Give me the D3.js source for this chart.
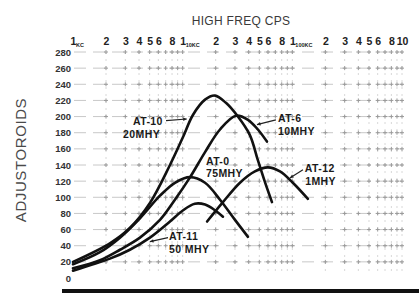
<!DOCTYPE html>
<meta charset="utf-8">
<script src="https://d3js.org/d3.v7.min.js"></script>
<style>
  body { margin: 0; background: #fff; }
  text { font-family: "Liberation Sans", Arial, sans-serif; }
</style>
<body>
<div id="canvas"></div>
<script>
    // frequency in KC (log axis) and adjustoroids
    var at10Freq = [1, 2.17, 3.3, 5.03, 7.66, 10.1, 12.4, 16, 19.7, 24.8, 31.9, 41, 48.5, 56.2, 65.2];
    var at10Vals = [20, 43, 62, 93, 140, 175, 202, 221, 226, 217, 200, 177, 146, 119, 94];

    var at0Freq = [1, 1.76, 2.68, 4.08, 6.21, 8.5, 11.7, 16, 21.9, 30, 39.4];
    var at0Vals = [17, 32, 50, 74, 102, 118, 125, 118, 97, 72, 51];

    var at6Freq = [1, 1.76, 2.68, 4.08, 6.21, 8.5, 11.7, 16, 21.9, 30.6, 39.4, 48.5, 58.7];
    var at6Vals = [12, 22, 35, 50, 72, 97, 125, 156, 184, 201, 196, 184, 169];

    var at11Freq = [1, 2.17, 3.3, 5.03, 7.66, 10.1, 12.9, 16, 19.7, 23.3];
    var at11Vals = [9, 24, 35, 50, 70, 84, 92, 91, 84, 76];

    var at12Freq = [16.7, 23.3, 33.3, 45.6, 59.9, 77.1, 101, 138.7];
    var at12Vals = [70, 94, 118, 132, 137, 132, 118, 98];

    var seriesFreq = [at10Freq, at0Freq, at6Freq, at11Freq, at12Freq];
    var seriesVals = [at10Vals, at0Vals, at6Vals, at11Vals, at12Vals];

    // curve labels (two lines each), placed in data units
    var labelTop = ["AT-10", "AT-0", "AT-6", "AT-11", "AT-12"];
    var labelBottom = ["20MHY", "75MHY", "10MHY", "50 MHY", "1MHY"];
    var labelFreq = [3.52, 16.3, 73.9, 7.5, 130];
    var labelVal = [189, 140, 193, 47, 131];
    var label2Freq = [2.86, 16.3, 73.9, 7.5, 131];
    var label2Val = [174, 125, 177, 31, 115];
    var arrowFrom = [[7.05, 195], null, [70.8, 196], [7.35, 50], [125, 134]];
    var arrowTo = [[10.9, 197], null, [47.6, 190], [5.03, 45], [95, 124]];

    // axis ticks
    var yTicks = [0, 20, 40, 60, 80, 100, 120, 140, 160, 180, 200, 220, 240, 260, 280];
    var xLabelTicks = [1, 2, 3, 4, 5, 6, 8, 10, 20, 30, 40, 50, 60, 80, 100, 200, 300, 400, 500, 600, 800, 1000];
    var xUnits = ["KC", "10KC", "100KC"];
    var xUnitFreq = [1, 10, 100];

    var width = 419, height = 293;

    var svg = d3.select('#canvas')
        .append("svg")
        .attr("width", width)
        .attr("height", height)
        .style("background", "#fff");

    var x = d3.scaleLog().domain([1, 1000]).range([73, 402]);
    var y = d3.scaleLinear().domain([0, 280]).range([278, 52]);

    // minor positions 1..9 per decade
    var minor = [];
    [1, 10, 100].forEach(function(d) {
        for (var i = 1; i < 10; i++) minor.push(d * i);
    });
    minor.push(1000);

    // grid ------------------------------------------------------------
    var grid = svg.append("g");
    grid.selectAll(".vg")
        .data(minor.filter(function(d) { return d > 1; }))
        .enter().append("line")
        .attr("x1", function(d) { return x(d); })
        .attr("x2", function(d) { return x(d); })
        .attr("y1", y(280))
        .attr("y2", y(0) - 2)
        .attr("stroke", "#d8d8d8")
        .attr("stroke-width", 1)
        .attr("stroke-dasharray", "2,5");

    grid.selectAll(".hg")
        .data(yTicks.filter(function(d) { return d > 0; }))
        .enter().append("line")
        .attr("x1", x(1) + 1)
        .attr("x2", x(1000))
        .attr("y1", function(d) { return y(d); })
        .attr("y2", function(d) { return y(d); })
        .attr("stroke", "#c8c8c8")
        .attr("stroke-width", 1)
        .attr("stroke-dasharray", "12,7");

    var cross = [];
    yTicks.filter(function(d) { return d > 0; }).forEach(function(v) {
        minor.filter(function(d) { return d > 1; }).forEach(function(f) { cross.push([f, v]); });
    });
    grid.selectAll(".plus")
        .data(cross)
        .enter().append("path")
        .attr("d", function(d) {
            var cx = x(d[0]), cy = y(d[1]);
            return "M" + (cx - 2) + "," + cy + "H" + (cx + 2) + "M" + cx + "," + (cy - 2) + "V" + (cy + 2);
        })
        .attr("stroke", "#999")
        .attr("stroke-width", 1);

    // axes ------------------------------------------------------------
    var xAxis = d3.axisTop(x)
        .tickValues(xLabelTicks)
        .tickSize(0)
        .tickPadding(0)
        .tickFormat(function(d) { return d == 1000 ? "10" : String(d).charAt(0); });
    var gx = svg.append("g")
        .attr("transform", "translate(0,45)")
        .call(xAxis);
    gx.select(".domain").remove();
    gx.selectAll("text")
        .style("font-size", "10.5px")
        .style("font-weight", "bold")
        .attr("fill", "#222");

    svg.selectAll(".unit")
        .data(xUnits)
        .enter().append("text")
        .attr("x", function(d, i) { return x(xUnitFreq[i]) + 3; })
        .attr("y", 47)
        .style("font-size", "5.5px")
        .style("font-weight", "bold")
        .attr("fill", "#222")
        .text(function(d) { return d; });

    var yAxis = d3.axisLeft(y)
        .tickValues(yTicks)
        .tickSize(0)
        .tickPadding(2);
    var gy = svg.append("g")
        .attr("transform", "translate(73,0)")
        .call(yAxis);
    gy.select(".domain").remove();
    gy.selectAll("text")
        .style("font-size", "9.5px")
        .style("font-weight", "bold")
        .attr("fill", "#333");

    svg.append("text")
        .attr("x", 241)
        .attr("y", 25)
        .attr("text-anchor", "middle")
        .style("font-size", "12px")
        .style("letter-spacing", "0.3px")
        .attr("fill", "#3a3a3a")
        .text("HIGH FREQ CPS");

    svg.append("text")
        .attr("transform", "translate(26,160) rotate(-90)")
        .attr("text-anchor", "middle")
        .style("font-size", "15px")
        .style("letter-spacing", "0.6px")
        .attr("fill", "#4a4a4a")
        .text("ADJUSTOROIDS");

    // black band at the bottom of the scan
    svg.append("rect")
        .attr("x", 62)
        .attr("y", 289)
        .attr("width", width - 62)
        .attr("height", 4)
        .attr("fill", "#111");

    // curves ----------------------------------------------------------
    var line = d3.line()
        .x(function(d) { return x(d[0]); })
        .y(function(d) { return y(d[1]); })
        .curve(d3.curveCatmullRom.alpha(0.5));

    for (let s = 0; s < seriesFreq.length; s++) {
        var pts = seriesFreq[s].map(function(f, i) { return [f, seriesVals[s][i]]; });
        svg.append("path")
            .attr("d", line(pts))
            .attr("fill", "none")
            .attr("stroke", "#111")
            .attr("stroke-width", 2.6)
            .attr("stroke-linecap", "round");
    }

    // labels ----------------------------------------------------------
    for (let s = 0; s < labelTop.length; s++) {
        svg.append("text")
            .attr("x", x(labelFreq[s]))
            .attr("y", y(labelVal[s]))
            .style("font-size", "10.5px")
            .style("font-weight", "bold")
            .style("letter-spacing", "0.4px")
            .attr("fill", "#1a1a1a")
            .text(labelTop[s]);
        svg.append("text")
            .attr("x", x(label2Freq[s]))
            .attr("y", y(label2Val[s]))
            .style("font-size", "10.5px")
            .style("font-weight", "bold")
            .style("letter-spacing", "0.4px")
            .attr("fill", "#1a1a1a")
            .text(labelBottom[s]);
        if (arrowFrom[s]) {
            var a = [x(arrowFrom[s][0]), y(arrowFrom[s][1])];
            var b = [x(arrowTo[s][0]), y(arrowTo[s][1])];
            svg.append("line")
                .attr("x1", a[0]).attr("y1", a[1])
                .attr("x2", b[0]).attr("y2", b[1])
                .attr("stroke", "#222")
                .attr("stroke-width", 1.2);
            var ang = Math.atan2(b[1] - a[1], b[0] - a[0]);
            var hl = 4;
            svg.append("path")
                .attr("d", "M" + b[0] + "," + b[1] +
                    "L" + (b[0] - hl * Math.cos(ang - 0.45)) + "," + (b[1] - hl * Math.sin(ang - 0.45)) +
                    "L" + (b[0] - hl * Math.cos(ang + 0.45)) + "," + (b[1] - hl * Math.sin(ang + 0.45)) + "Z")
                .attr("fill", "#222");
        }
    }
</script>
</body>
